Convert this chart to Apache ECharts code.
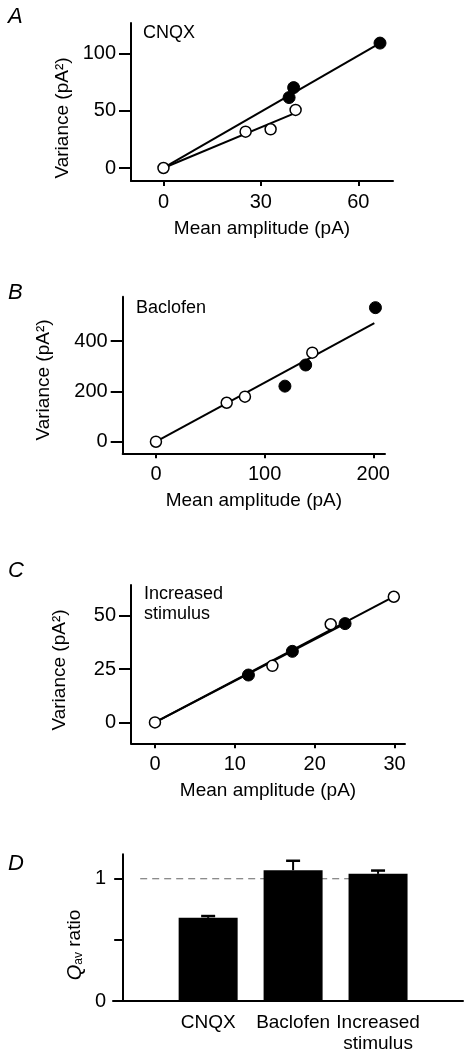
<!DOCTYPE html>
<html><head><meta charset="utf-8">
<script src="https://cdn.jsdelivr.net/npm/echarts@6/dist/echarts.min.js"></script>
<style>html,body{margin:0;padding:0;background:#fff}#c{width:468px;height:1054px}</style>
</head><body><div id="c"></div>
<script>
// ---- Panel A (CNQX) ----
const aOpen = [[0,0],[25.3,31.8],[33.0,33.9],[40.7,50.9]];
const aFilled = [[38.7,61.7],[40.1,70.4],[66.7,109.4]];
const aFilledFit = [[0,0],[66.7,109.4]];
const aOpenFit = [[0,0],[40.5,48]];
const aXTicks = [0,30,60];
const aYTicks = [0,50,100];
// ---- Panel B (Baclofen) ----
const bOpen = [[0,0],[65.1,155],[81.9,179],[143.9,354]];
const bFilled = [[118.7,221],[137.8,305],[202,533]];
const bFit = [[0,0],[201,471]];
const bXTicks = [0,100,200];
const bYTicks = [0,200,400];
// ---- Panel C (Increased stimulus) ----
const cOpen = [[0,0],[14.7,26.5],[22.0,46.0],[29.9,58.9]];
const cFilled = [[11.7,22.2],[17.2,33.3],[23.8,46.3]];
const cOpenFit = [[0,0],[29.9,58.9]];
const cFilledFit = [[0,0],[23.8,46.3]];
const cXTicks = [0,10,20,30];
const cYTicks = [0,25,50];
// ---- Panel D (Qav ratio) ----
const dCategories = ['CNQX','Baclofen','Increased\nstimulus'];
const dPos = [1,2,3];
const dMeans = [0.68,1.07,1.04];
const dErrTop = [0.695,1.147,1.067];
const dRef = 1;
const dYTicks = [0,0.5,1];
const dYLabels = [0,1];

const FONT = "'Liberation Sans', Arial, Helvetica, sans-serif";
const txt = {color:'#000', fontFamily:FONT, fontSize:19};

function xAx(gi, min, max, ticks, showName){
  return {type:'value', gridIndex:gi, min, max, position:'bottom',
    axisLine:{onZero:false, lineStyle:{color:'#000', width:2}},
    axisTick:{show:true, length:5, customValues:ticks, lineStyle:{color:'#000', width:2}},
    axisLabel:{customValues:ticks, margin:11, ...txt, fontSize:20},
    splitLine:{show:false},
    name: showName ? 'Mean amplitude (pA)' : '', nameLocation:'middle', nameGap:38,
    nameTextStyle:{...txt}};
}
function yAx(gi, min, max, ticks){
  return {type:'value', gridIndex:gi, min, max, position:'left',
    axisLine:{onZero:false, lineStyle:{color:'#000', width:2}},
    axisTick:{show:true, length:12, customValues:ticks, lineStyle:{color:'#000', width:2}},
    axisLabel:{customValues:ticks, margin:15, ...txt, fontSize:20},
    splitLine:{show:false}};
}
function openSc(xi, data){
  return {type:'scatter', xAxisIndex:xi, yAxisIndex:xi, data, symbol:'circle', symbolSize:11, z:5,
    itemStyle:{color:'#fff', borderColor:'#000', borderWidth:1.5, opacity:1}};
}
function fillSc(xi, data){
  return {type:'scatter', xAxisIndex:xi, yAxisIndex:xi, data, symbol:'circle', symbolSize:12, z:6,
    itemStyle:{color:'#000', borderColor:'#000', borderWidth:1, opacity:1}};
}
function fit(xi, data){
  return {type:'line', xAxisIndex:xi, yAxisIndex:xi, data, showSymbol:false, symbol:'none', z:3,
    lineStyle:{color:'#000', width:2}};
}

const option = {
  animation:false,
  backgroundColor:'#fff',
  grid:[
    {left:131, top:23, width:262, height:158},
    {left:122.7, top:296.7, width:262.3, height:156.6},
    {left:131, top:585, width:274, height:158.3},
    {left:113, top:854.3, width:350, height:149.7}
  ],
  xAxis:[
    xAx(0, -10, 70.7, aXTicks, true),
    xAx(1, -30.6, 210.8, bXTicks, true),
    xAx(2, -3, 31.3, cXTicks, true),
    {type:'value', gridIndex:3, min:-0.12, max:4.0, position:'bottom',
     axisLine:{onZero:true, lineStyle:{color:'#000', width:2}},
     axisTick:{show:false},
     axisLabel:{customValues:dPos, margin:11, ...txt, lineHeight:21,
       formatter:v => dCategories[Math.round(v)-1] || ''},
     splitLine:{show:false}}
  ],
  yAxis:[
    yAx(0, -11.4, 127, aYTicks),
    yAx(1, -46, 576.5, bYTicks),
    yAx(2, -9.8, 64.4, cYTicks),
    {type:'value', gridIndex:3, min:0, max:1.2, position:'left',
     axisLine:{onZero:true, lineStyle:{color:'#000', width:2}},
     axisTick:{show:true, length:9, customValues:dYTicks, lineStyle:{color:'#000', width:2}},
     axisLabel:{customValues:dYLabels, margin:7, ...txt, fontSize:20},
     splitLine:{show:false}}
  ],
  graphic:[
    {type:'text', left:8, top:6, style:{text:'A', font:'italic 22px '+FONT, fill:'#000'}},
    {type:'text', left:8, top:282, style:{text:'B', font:'italic 22px '+FONT, fill:'#000'}},
    {type:'text', left:8, top:560, style:{text:'C', font:'italic 22px '+FONT, fill:'#000'}},
    {type:'text', left:8, top:853, style:{text:'D', font:'italic 22px '+FONT, fill:'#000'}},
    {type:'text', x:143, y:24, style:{text:'CNQX', font:'18px '+FONT, fill:'#000'}},
    {type:'text', x:136, y:299, style:{text:'Baclofen', font:'18px '+FONT, fill:'#000'}},
    {type:'text', x:144, y:584, style:{text:'Increased\nstimulus', font:'18px '+FONT, fill:'#000', lineHeight:20}},
    {type:'text', x:63, y:118, rotation:Math.PI/2,
      style:{text:'Variance (pA²)', font:'19px '+FONT, fill:'#000', align:'center', verticalAlign:'middle'}},
    {type:'text', x:44, y:380, rotation:Math.PI/2,
      style:{text:'Variance (pA²)', font:'19px '+FONT, fill:'#000', align:'center', verticalAlign:'middle'}},
    {type:'text', x:60, y:670, rotation:Math.PI/2,
      style:{text:'Variance (pA²)', font:'19px '+FONT, fill:'#000', align:'center', verticalAlign:'middle'}},
    {type:'text', x:75, y:945, rotation:Math.PI/2,
      style:{text:'{q|Q}{s|av}{r| ratio}', align:'center', verticalAlign:'middle', fill:'#000',
        rich:{q:{font:'italic 20px '+FONT, fill:'#000'},
              s:{font:'12px '+FONT, fill:'#000', verticalAlign:'bottom', padding:[8,0,0,0]},
              r:{font:'19px '+FONT, fill:'#000'}}}}
  ],
  series:[
    fit(0, aFilledFit), fit(0, aOpenFit), openSc(0, aOpen), fillSc(0, aFilled),
    fit(1, bFit), openSc(1, bOpen), fillSc(1, bFilled),
    fit(2, cOpenFit), fit(2, cFilledFit), openSc(2, cOpen), fillSc(2, cFilled),
    {type:'line', xAxisIndex:3, yAxisIndex:3, data:[[0.2,dRef],[3,dRef]], showSymbol:false, symbol:'none', z:1,
      lineStyle:{color:'#666', width:1.2, type:[7,5]}},
    {type:'bar', xAxisIndex:3, yAxisIndex:3, data:dPos.map((p,i)=>[p,dMeans[i]]), barWidth:59, z:2,
      itemStyle:{color:'#000'}},
    {type:'custom', xAxisIndex:3, yAxisIndex:3, z:3,
      data:dPos.map((p,i)=>[p,dMeans[i],dErrTop[i]]),
      encode:{x:0, y:[1,2]},
      renderItem:(params, api) => {
        const p0 = api.coord([api.value(0), api.value(1)]);
        const p1 = api.coord([api.value(0), api.value(2)]);
        return {type:'group', children:[
          {type:'line', shape:{x1:p0[0], y1:p0[1], x2:p1[0], y2:p1[1]}, style:{stroke:'#000', lineWidth:2}},
          {type:'line', shape:{x1:p1[0]-7, y1:p1[1], x2:p1[0]+7, y2:p1[1]}, style:{stroke:'#000', lineWidth:2.5}}
        ]};
      }}
  ]
};
const chart = echarts.init(document.getElementById('c'), null, {renderer:'canvas'});
chart.setOption(option);
</script></body></html>
